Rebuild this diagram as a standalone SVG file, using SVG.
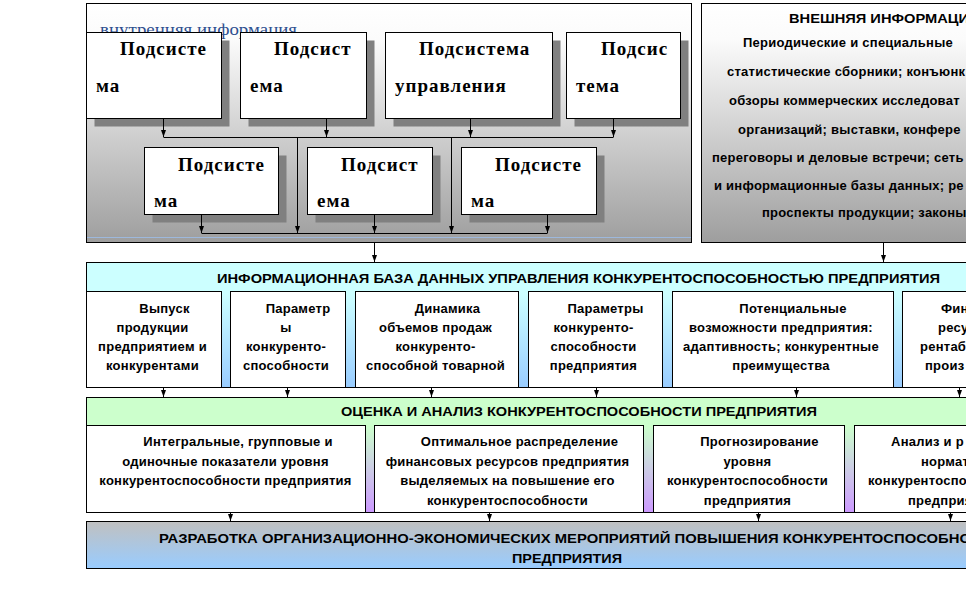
<svg xmlns="http://www.w3.org/2000/svg" width="966" height="612" viewBox="0 0 966 612">
<style>
.box{fill:#ffffff;stroke:#000000;stroke-width:1}
.sh{fill:#808080}
.pn{stroke:#000000;stroke-width:1}
.st{font-family:"Liberation Serif","Times New Roman",serif;font-weight:bold;font-size:19px;letter-spacing:1px;fill:#000}
.t{font-family:"Liberation Sans",Arial,sans-serif;font-weight:bold;font-size:13px;letter-spacing:0.25px;fill:#000}
.m{text-anchor:middle}
.ti{font-family:"Liberation Sans",Arial,sans-serif;font-weight:bold;font-size:13px;fill:#000}
.c{stroke:#000;stroke-width:1;fill:none}
.ca{stroke:#000;stroke-width:1;fill:none;marker-end:url(#ah)}
</style>
<defs>
<linearGradient id="gGray" x1="0" y1="0" x2="0" y2="1">
<stop offset="0" stop-color="#ffffff"/>
<stop offset="0.15" stop-color="#fbfbfb"/>
<stop offset="1" stop-color="#9e9e9e"/>
</linearGradient>
<linearGradient id="gCyan" x1="0" y1="0" x2="0" y2="1">
<stop offset="0" stop-color="#ccffff"/>
<stop offset="0.25" stop-color="#ccffff"/>
<stop offset="1" stop-color="#99ccff"/>
</linearGradient>
<linearGradient id="gGreen" x1="0" y1="0" x2="0" y2="1">
<stop offset="0" stop-color="#ccffcc"/>
<stop offset="0.25" stop-color="#ccffcc"/>
<stop offset="1" stop-color="#cc99ff"/>
</linearGradient>
<linearGradient id="gBottom" x1="0" y1="0" x2="0" y2="1">
<stop offset="0" stop-color="#c0c0c0"/>
<stop offset="1" stop-color="#99ccff"/>
</linearGradient>
<marker id="ah" markerUnits="userSpaceOnUse" markerWidth="8" markerHeight="6" refX="7" refY="2.5" orient="auto">
<path d="M0,0 L7,2.5 L0,5 z" fill="#000"/>
</marker>
</defs>

<g id="internal-panel">
<rect class="pn" x="86.5" y="3.5" width="605" height="239" fill="url(#gGray)"/>
<line x1="87" y1="237.5" x2="691" y2="237.5" stroke="#9db8dc" stroke-width="1"/>
<text x="100" y="35" font-family="'Liberation Serif','Times New Roman',serif" font-size="17" fill="#2e4f8f" textLength="197" lengthAdjust="spacingAndGlyphs">внутренняя информация</text>
</g>

<g id="sub1">
<rect class="sh" x="94.5" y="40.5" width="135" height="86"/>
<rect class="box" x="86.5" y="32.5" width="135" height="86"/>
<text class="st" x="120" y="55">Подсисте</text>
<text class="st" x="96" y="92">ма</text>
</g>
<g id="sub2">
<rect class="sh" x="248.5" y="40.5" width="126" height="86"/>
<rect class="box" x="240.5" y="32.5" width="126" height="86"/>
<text class="st" x="274" y="55">Подсист</text>
<text class="st" x="250" y="92">ема</text>
</g>
<g id="sub3">
<rect class="sh" x="393.5" y="40.5" width="167" height="86"/>
<rect class="box" x="385.5" y="32.5" width="167" height="86"/>
<text class="st" x="419" y="55">Подсистема</text>
<text class="st" x="395" y="92">управления</text>
</g>
<g id="sub4">
<rect class="sh" x="574.5" y="40.5" width="114" height="86"/>
<rect class="box" x="566.5" y="32.5" width="114" height="86"/>
<text class="st" x="601" y="55">Подсис</text>
<text class="st" x="576" y="92">тема</text>
</g>
<g id="sub5">
<rect class="sh" x="152.5" y="155.5" width="134" height="67"/>
<rect class="box" x="144.5" y="147.5" width="134" height="67"/>
<text class="st" x="178" y="171">Подсисте</text>
<text class="st" x="154" y="207">ма</text>
</g>
<g id="sub6">
<rect class="sh" x="315.5" y="155.5" width="125" height="67"/>
<rect class="box" x="307.5" y="147.5" width="125" height="67"/>
<text class="st" x="341" y="171">Подсист</text>
<text class="st" x="317" y="207">ема</text>
</g>
<g id="sub7">
<rect class="sh" x="469.5" y="155.5" width="135" height="67"/>
<rect class="box" x="461.5" y="147.5" width="135" height="67"/>
<text class="st" x="495" y="171">Подсисте</text>
<text class="st" x="471" y="207">ма</text>
</g>

<g id="external-panel">
<rect class="pn" x="701.5" y="3.5" width="280" height="239" fill="url(#gGray)"/>
<text class="ti" x="789" y="23" textLength="180" lengthAdjust="spacingAndGlyphs">ВНЕШНЯЯ ИНФОРМАЦИ</text>
<text class="t" x="743" y="46.5">Периодические и специальные</text>
<text class="t" x="727" y="75.5">статистические сборники; конъюнк</text>
<text class="t" x="729" y="105">обзоры коммерческих исследоват</text>
<text class="t" x="738" y="133.5">организаций; выставки, конфере</text>
<text class="t" x="712" y="161.5">переговоры и деловые встречи; сеть</text>
<text class="t" x="714" y="189.5">и информационные базы данных; ре</text>
<text class="t" x="762" y="217">проспекты продукции; законы</text>
</g>

<g id="infobase">
<rect class="pn" x="86.5" y="262.5" width="890" height="125" fill="url(#gCyan)"/>
<text class="ti" x="217" y="282.5" textLength="723" lengthAdjust="spacingAndGlyphs">ИНФОРМАЦИОННАЯ БАЗА ДАННЫХ УПРАВЛЕНИЯ КОНКУРЕНТОСПОСОБНОСТЬЮ ПРЕДПРИЯТИЯ</text>
</g>
<g id="ib1">
<rect class="box" x="86.5" y="291.5" width="135" height="96"/>
<text class="t m" x="164.5" y="312.5">Выпуск</text>
<text class="t m" x="152.5" y="332">продукции</text>
<text class="t m" x="152.5" y="351">предприятием и</text>
<text class="t m" x="152.5" y="369.5">конкурентами</text>
</g>
<g id="ib2">
<rect class="box" x="230.5" y="291.5" width="115" height="96"/>
<text class="t m" x="298" y="312.5">Параметр</text>
<text class="t m" x="286" y="332">ы</text>
<text class="t m" x="286" y="351">конкуренто-</text>
<text class="t m" x="286" y="369.5">способности</text>
</g>
<g id="ib3">
<rect class="box" x="355.5" y="291.5" width="163" height="96"/>
<text class="t m" x="447.5" y="312.5">Динамика</text>
<text class="t m" x="435.5" y="332">объемов продаж</text>
<text class="t m" x="435.5" y="351">конкуренто-</text>
<text class="t m" x="435.5" y="369.5">способной товарной</text>
</g>
<g id="ib4">
<rect class="box" x="528.5" y="291.5" width="134" height="96"/>
<text class="t m" x="605.5" y="312.5">Параметры</text>
<text class="t m" x="593.5" y="332">конкуренто-</text>
<text class="t m" x="593.5" y="351">способности</text>
<text class="t m" x="593.5" y="369.5">предприятия</text>
</g>
<g id="ib5">
<rect class="box" x="672.5" y="291.5" width="221" height="96"/>
<text class="t m" x="793" y="312.5">Потенциальные</text>
<text class="t m" x="781" y="332">возможности предприятия:</text>
<text class="t m" x="781" y="351">адаптивность; конкурентные</text>
<text class="t m" x="781" y="369.5">преимущества</text>
</g>
<g id="ib6">
<rect class="box" x="902.5" y="291.5" width="120" height="96"/>
<text class="t" x="941" y="312.5">Фин</text>
<text class="t" x="938" y="332">ресу</text>
<text class="t" x="920" y="351">рентаб</text>
<text class="t" x="925" y="369.5">произ</text>
</g>

<g id="analysis">
<rect class="pn" x="86.5" y="397.5" width="890" height="115" fill="url(#gGreen)"/>
<text class="ti" x="341" y="415.5" textLength="476" lengthAdjust="spacingAndGlyphs">ОЦЕНКА И АНАЛИЗ КОНКУРЕНТОСПОСОБНОСТИ ПРЕДПРИЯТИЯ</text>
</g>
<g id="an1">
<rect class="box" x="86.5" y="425.5" width="279" height="87"/>
<text class="t m" x="238" y="446">Интегральные, групповые и</text>
<text class="t m" x="225.5" y="466">одиночные показатели уровня</text>
<text class="t m" x="225.5" y="485">конкурентоспособности предприятия</text>
</g>
<g id="an2">
<rect class="box" x="374.5" y="425.5" width="269" height="87"/>
<text class="t m" x="519.5" y="446">Оптимальное распределение</text>
<text class="t m" x="507.5" y="466">финансовых ресурсов предприятия</text>
<text class="t m" x="507.5" y="485">выделяемых на повышение его</text>
<text class="t m" x="507.5" y="504.5">конкурентоспособности</text>
</g>
<g id="an3">
<rect class="box" x="653.5" y="425.5" width="191" height="87"/>
<text class="t m" x="759.5" y="446">Прогнозирование</text>
<text class="t m" x="747.5" y="466">уровня</text>
<text class="t m" x="747.5" y="485">конкурентоспособности</text>
<text class="t m" x="747.5" y="504.5">предприятия</text>
</g>
<g id="an4">
<rect class="box" x="854.5" y="425.5" width="150" height="87"/>
<text class="t" x="891" y="446">Анализ и р</text>
<text class="t" x="921" y="466">нормати</text>
<text class="t" x="868" y="485">конкурентоспо</text>
<text class="t" x="908" y="504.5">предприя</text>
</g>

<g id="measures">
<rect class="pn" x="86.5" y="521.5" width="890" height="47" fill="url(#gBottom)"/>
<text class="ti" x="159" y="542.5" textLength="812" lengthAdjust="spacingAndGlyphs">РАЗРАБОТКА ОРГАНИЗАЦИОННО-ЭКОНОМИЧЕСКИХ МЕРОПРИЯТИЙ ПОВЫШЕНИЯ КОНКУРЕНТОСПОСОБНО</text>
<text class="ti" x="512" y="562.5" textLength="110" lengthAdjust="spacingAndGlyphs">ПРЕДПРИЯТИЯ</text>
</g>

<g id="connectors">
<line class="ca" x1="163.5" y1="119" x2="163.5" y2="137"/>
<line class="ca" x1="326.5" y1="119" x2="326.5" y2="137"/>
<line class="ca" x1="470.5" y1="119" x2="470.5" y2="137"/>
<line class="ca" x1="613.5" y1="119" x2="613.5" y2="137"/>
<line class="c" x1="163.5" y1="137.5" x2="613.5" y2="137.5"/>
<line class="ca" x1="297.5" y1="137.5" x2="297.5" y2="233"/>
<line class="ca" x1="451.5" y1="137.5" x2="451.5" y2="233"/>
<line class="ca" x1="201.5" y1="215" x2="201.5" y2="233"/>
<line class="ca" x1="374.5" y1="215" x2="374.5" y2="233"/>
<line class="ca" x1="547.5" y1="215" x2="547.5" y2="233"/>
<line class="c" x1="201.5" y1="233.5" x2="547.5" y2="233.5"/>
<line class="ca" x1="374.5" y1="243" x2="374.5" y2="262"/>
<line class="ca" x1="883.5" y1="243" x2="883.5" y2="262"/>
<line class="ca" x1="163.5" y1="388" x2="163.5" y2="397"/>
<line class="ca" x1="287.5" y1="388" x2="287.5" y2="397"/>
<line class="ca" x1="431.5" y1="388" x2="431.5" y2="397"/>
<line class="ca" x1="596.5" y1="388" x2="596.5" y2="397"/>
<line class="ca" x1="796.5" y1="388" x2="796.5" y2="397"/>
<line class="ca" x1="959.5" y1="388" x2="959.5" y2="397"/>
<line class="ca" x1="230.5" y1="513" x2="230.5" y2="521"/>
<line class="ca" x1="489.5" y1="513" x2="489.5" y2="521"/>
<line class="ca" x1="758.5" y1="513" x2="758.5" y2="521"/>
<line class="ca" x1="950.5" y1="513" x2="950.5" y2="521"/>
</g>
</svg>
